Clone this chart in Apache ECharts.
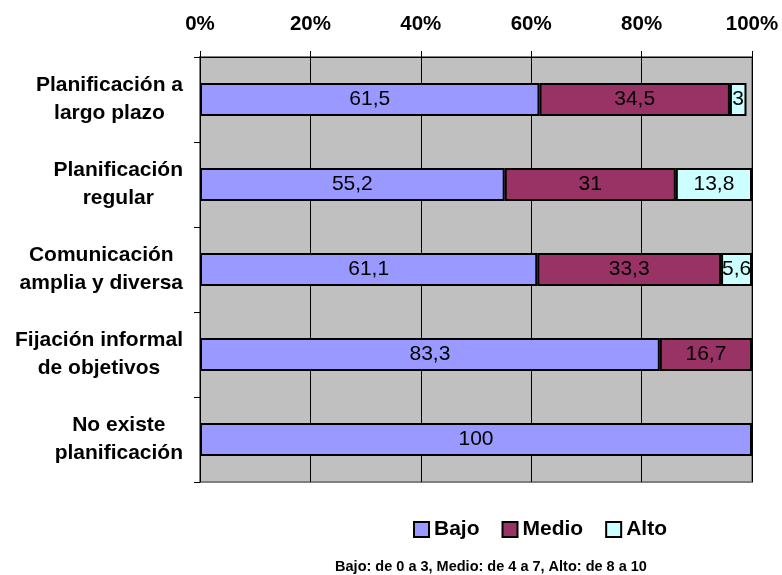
<!DOCTYPE html>
<html>
<head>
<meta charset="utf-8">
<script src="https://cdn.jsdelivr.net/npm/echarts@6/dist/echarts.min.js"></script>
<style>
  html, body { margin: 0; padding: 0; background: #ffffff; }
  #chart { width: 782px; height: 575px; }
</style>
</head>
<body>
<div id="chart"></div>
<script>
// Planning practice categories (top to bottom)
const categories = [
  'Planificación a\nlargo plazo',
  'Planificación\nregular',
  'Comunicación\namplia y diversa',
  'Fijación informal\nde objetivos',
  'No existe\nplanificación'
];
// Share of each level, in percent
const bajo  = [61.5, 55.2, 61.1, 83.3, 100];
const medio = [34.5, 31, 33.3, 16.7, null];
const alto  = [3, 13.8, 5.6, null, null];
const axisTicks = [0, 20, 40, 60, 80, 100];
const note = 'Bajo: de 0 a 3, Medio: de 4 a 7, Alto: de 8 a 10';

const FONT = 'Arial, "Liberation Sans", sans-serif';

function seg(name, data, color) {
  return {
    name: name,
    type: 'bar',
    stack: 'total',
    data: data,
    barWidth: 33,
    itemStyle: { color: color, borderColor: '#000000', borderWidth: 2 },
    label: {
      show: true,
      position: 'inside',
      color: '#000000',
      fontFamily: FONT,
      fontSize: 21,
      formatter: p => (p.value == null ? '' : String(p.value).replace('.', ','))
    },
    emphasis: { disabled: true }
  };
}

const chart = echarts.init(document.getElementById('chart'), null, { renderer: 'canvas' });
chart.setOption({
  animation: false,
  backgroundColor: '#ffffff',
  textStyle: { fontFamily: FONT },
  grid: {
    left: 200, right: 30, top: 57, bottom: 93,
    show: true,
    backgroundColor: '#C0C0C0',
    borderColor: '#808080',
    borderWidth: 2
  },
  legend: {
    data: ['Bajo', 'Medio', 'Alto'],
    left: 413,
    top: 519,
    padding: 0,
    icon: 'rect',
    itemWidth: 15,
    itemHeight: 15,
    itemGap: 22,
    textStyle: { fontFamily: FONT, fontSize: 21, fontWeight: 'bold', color: '#000000' }
  },
  graphic: [{
    type: 'text',
    x: 491,
    y: 567,
    style: {
      text: note,
      textAlign: 'center',
      textVerticalAlign: 'middle',
      fontFamily: FONT,
      fontSize: 14.5,
      fontWeight: 'bold',
      fill: '#000000'
    }
  }],
  xAxis: {
    type: 'value',
    position: 'top',
    min: axisTicks[0],
    max: axisTicks[axisTicks.length - 1],
    interval: axisTicks[1] - axisTicks[0],
    axisLine: { show: true, lineStyle: { color: '#000000', width: 1 } },
    axisTick: { show: true, length: 6, lineStyle: { color: '#000000' } },
    axisLabel: {
      margin: 22,
      color: '#000000',
      fontFamily: FONT,
      fontSize: 20.5,
      fontWeight: 'bold',
      formatter: '{value}%'
    },
    splitLine: { show: true, lineStyle: { color: '#000000', width: 1 } }
  },
  yAxis: {
    type: 'category',
    inverse: true,
    data: categories,
    axisLine: { show: true, lineStyle: { color: '#000000', width: 1 } },
    axisTick: { show: true, length: 6, lineStyle: { color: '#000000' } },
    axisLabel: {
      margin: 17,
      color: '#000000',
      fontFamily: FONT,
      fontSize: 21,
      fontWeight: 'bold',
      lineHeight: 28,
      formatter: v => v.split('\n').map(s => '{c|' + s + '}').join('\n'),
      rich: {
        c: { align: 'center', fontFamily: FONT, fontSize: 21, fontWeight: 'bold', lineHeight: 28, color: '#000000' }
      }
    },
    splitLine: { show: false }
  },
  series: [
    seg('Bajo', bajo, '#9999FF'),
    seg('Medio', medio, '#993366'),
    seg('Alto', alto, '#CCFFFF')
  ]
});
</script>
</body>
</html>
